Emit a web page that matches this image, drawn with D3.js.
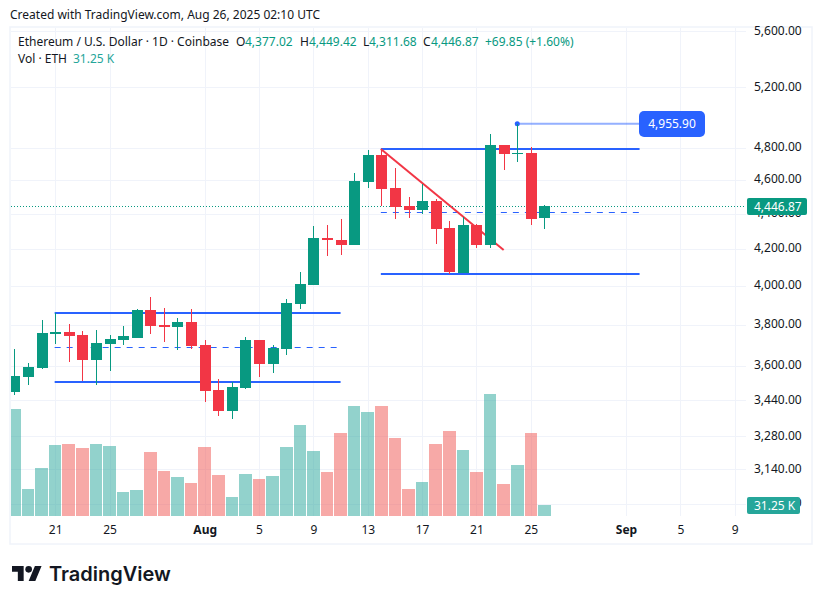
<!DOCTYPE html>
<html>
<head>
<meta charset="utf-8">
<script src="https://cdn.jsdelivr.net/npm/d3@7"></script>
<style>
    html, body { margin: 0; padding: 0; background: #fff; }
    svg { display: block; }
    text { font-family: "Noto Sans", sans-serif; }
</style>
</head>
<body>
<div id="chart"></div>
<script>
// daily candles, Jul 18 to Aug 26 2025
var startDay = "2025-07-18";
var opens = [3479, 3547, 3589, 3754, 3764, 3749, 3627, 3706, 3725, 3735, 3875, 3799, 3789, 3814, 3701, 3487, 3392, 3496, 3725, 3608,
    3681, 3906, 4005, 4261, 4250, 4222, 4589, 4755, 4552, 4446, 4422, 4475, 4319, 4068, 4336, 4222, 4820, 4762, 4768, 4377.02];
var highs = [3681, 3613, 3824, 3860, 3804, 3769, 3774, 3749, 3794, 3880, 3942, 3885, 3834, 3880, 3725, 3538, 3524, 3740, 3725, 3701,
    3932, 4074, 4330, 4336, 4370, 4644, 4787, 4793, 4674, 4499, 4577, 4487, 4358, 4382, 4342, 4889, 4820, 4956, 4806, 4449.42];
var lows = [3464, 3510, 3585, 3706, 3618, 3528, 3510, 3575, 3701, 3735, 3754, 3715, 3676, 3681, 3432, 3370, 3355, 3492, 3547, 3566,
    3651, 3880, 4005, 4162, 4167, 4222, 4552, 4446, 4370, 4376, 4399, 4228, 4063, 4068, 4206, 4206, 4662, 4712, 4336, 4311.68];
var closes = [3552, 3594, 3759, 3764, 3745, 3627, 3710, 3730, 3745, 3875, 3794, 3789, 3814, 3696, 3482, 3392, 3501, 3725, 3608, 3686,
    3911, 4011, 4261, 4250, 4222, 4595, 4755, 4546, 4440, 4422, 4475, 4313, 4074, 4336, 4222, 4820, 4762, 4768, 4370, 4446.87];
var volumes = [304, 77, 136, 202, 204, 193, 204, 199, 68, 74, 182, 128, 111, 94, 196, 116, 54, 119, 105, 114,
    196, 258, 185, 125, 236, 312, 295, 312, 221, 77, 97, 204, 241, 187, 125, 346, 91, 145, 236, 31.25];

// axis labels
var priceTicks = [5600, 5200, 4800, 4600, 4400, 4200, 4000, 3800, 3600, 3440, 3280, 3140, 3000];
var timeTicks = ["2025-07-21", "2025-07-25", "2025-08-01", "2025-08-05", "2025-08-09", "2025-08-13", "2025-08-17", "2025-08-21", "2025-08-25", "2025-09-01", "2025-09-05", "2025-09-09"];
var timeLabels = ["21", "25", "Aug", "5", "9", "13", "17", "21", "25", "Sep", "5", "9"];

// drawings: [from, to, price from, price to]
var solidLines = [
    ["2025-07-21", "2025-08-11", 3860, 3860],
    ["2025-07-21", "2025-08-11", 3524, 3524],
    ["2025-08-14", "2025-09-02", 4793, 4793],
    ["2025-08-14", "2025-09-02", 4063, 4063]
];
var dashedLines = [
    ["2025-07-21", "2025-08-11", 3689, 3689],
    ["2025-08-14", "2025-09-02", 4409, 4409]
];
var trendLine = ["2025-08-14", "2025-08-23", 4793, 4195];
var targetLine = ["2025-08-24", "2025-09-02", 4955.90, 4955.90];

var lastPrice = 4446.87, lastVolume = 31.25;

var upColor = "#089981", downColor = "#f23645", blue = "#2962ff", gridColor = "#f0f3fa", textColor = "#131722";

var width = 822, height = 604,
    plotLeft = 11, plotRight = 746, plotTop = 28, plotBottom = 516;

var parseDay = d3.utcParse("%Y-%m-%d");
var days = d3.utcDay.range(parseDay(startDay), d3.utcDay.offset(parseDay(startDay), opens.length));

var x = d3.scaleUtc()
    .domain([parseDay(startDay), parseDay("2025-09-09")])
    .range([14.4, 734.7]);
var y = d3.scaleLog()
    .domain([5200, 3140])
    .range([87.3, 469.3]);
var yVol = d3.scaleLinear()
    .domain([0, 1000])
    .range([516, 164]);

var svg = d3.select("#chart").append("svg")
    .attr("width", width)
    .attr("height", height)
    .attr("viewBox", "0 0 " + width + " " + height);

svg.append("defs").append("clipPath")
    .attr("id", "plot-clip")
    .append("rect")
    .attr("x", plotLeft)
    .attr("y", plotTop)
    .attr("width", plotRight - plotLeft)
    .attr("height", plotBottom - plotTop);

svg.append("text")
    .attr("x", 10)
    .attr("y", 19)
    .attr("font-size", 12)
    .attr("fill", textColor)
    .text("Created with TradingView.com, Aug 26, 2025 02:10 UTC");

// frame
svg.append("rect")
    .attr("x", 10)
    .attr("y", 27)
    .attr("width", 802)
    .attr("height", 517)
    .attr("fill", "none")
    .attr("stroke", gridColor)
    .attr("stroke-width", 1.5);

// grid
var grid = svg.append("g").attr("shape-rendering", "crispEdges");
grid.selectAll("line.h")
    .data(priceTicks)
    .enter().append("line")
    .attr("class", "h")
    .attr("x1", plotLeft)
    .attr("x2", plotRight)
    .attr("y1", function (d) { return Math.round(y(d)) + 0.5; })
    .attr("y2", function (d) { return Math.round(y(d)) + 0.5; })
    .attr("stroke", gridColor);
grid.selectAll("line.v")
    .data(timeTicks)
    .enter().append("line")
    .attr("class", "v")
    .attr("x1", function (d) { return Math.round(x(parseDay(d))) + 0.5; })
    .attr("x2", function (d) { return Math.round(x(parseDay(d))) + 0.5; })
    .attr("y1", plotTop)
    .attr("y2", plotBottom)
    .attr("stroke", gridColor);

var plot = svg.append("g").attr("clip-path", "url(#plot-clip)");

// volume bars
plot.append("g")
    .attr("shape-rendering", "crispEdges")
    .selectAll("rect")
    .data(days)
    .enter().append("rect")
    .attr("x", function (d) { return Math.round(x(d) - 6.3); })
    .attr("width", function (d) {
        return Math.round(x(d3.utcDay.offset(d, 1)) - 6.3) - 1 - Math.round(x(d) - 6.3);
    })
    .attr("y", function (d, i) { return yVol(volumes[i]); })
    .attr("height", function (d, i) { return yVol(0) - yVol(volumes[i]); })
    .attr("fill", function (d, i) { return closes[i] >= opens[i] ? "#26a69a" : "#ef5350"; })
    .attr("opacity", 0.5);

// drawings sit under the candles
function addLine(g, d) {
    return g.append("line")
        .attr("x1", x(parseDay(d[0])) - 0.5)
        .attr("x2", x(parseDay(d[1])))
        .attr("y1", y(d[2]))
        .attr("y2", y(d[3]));
}
var drawings = plot.append("g");
solidLines.forEach(function (d) {
    var yy = Math.round(y(d[2]));
    addLine(drawings, d).attr("y1", yy).attr("y2", yy).attr("stroke", blue).attr("stroke-width", 2);
});
dashedLines.forEach(function (d) {
    var yy = Math.round(y(d[2])) + 0.5;
    addLine(drawings, d).attr("y1", yy).attr("y2", yy).attr("stroke", blue).attr("stroke-width", 1).attr("stroke-dasharray", "6 6");
});
addLine(drawings, trendLine).attr("stroke", downColor).attr("stroke-width", 2);
addLine(drawings, targetLine).attr("stroke", blue).attr("stroke-opacity", 0.5).attr("stroke-width", 2);
drawings.append("circle")
    .attr("cx", x(parseDay(targetLine[0])))
    .attr("cy", y(targetLine[2]))
    .attr("r", 2.5)
    .attr("fill", blue);

// last price line
plot.append("line")
    .attr("x1", plotLeft)
    .attr("x2", plotRight)
    .attr("y1", Math.round(y(lastPrice)) + 0.5)
    .attr("y2", Math.round(y(lastPrice)) + 0.5)
    .attr("stroke", upColor)
    .attr("stroke-dasharray", "1 2");

// candles
var candles = plot.append("g")
    .attr("shape-rendering", "crispEdges")
    .selectAll("g")
    .data(days)
    .enter().append("g")
    .attr("fill", function (d, i) { return closes[i] >= opens[i] ? upColor : downColor; });
candles.append("rect")
    .attr("x", function (d) { return Math.round(x(d)); })
    .attr("width", 1)
    .attr("y", function (d, i) { return y(highs[i]); })
    .attr("height", function (d, i) { return y(lows[i]) - y(highs[i]); });
candles.append("rect")
    .attr("x", function (d) { return Math.round(x(d)) - 5; })
    .attr("width", 11)
    .attr("y", function (d, i) { return y(Math.max(opens[i], closes[i])); })
    .attr("height", function (d, i) { return Math.max(1, Math.abs(y(opens[i]) - y(closes[i]))); });

// price axis
var priceAxis = svg.append("g")
    .attr("transform", "translate(746,-1)")
    .call(d3.axisRight(y).tickValues(priceTicks).tickFormat(d3.format(",.2f")).tickSize(0).tickPadding(8));
priceAxis.select(".domain").remove();
priceAxis.attr("font-family", null).attr("font-size", 12);
priceAxis.selectAll("text").attr("fill", textColor);

// time axis
var timeDates = timeTicks.map(parseDay);
var timeAxis = svg.append("g")
    .attr("transform", "translate(0,522)")
    .call(d3.axisBottom(x).tickValues(timeDates).tickSize(0).tickPadding(3)
        .tickFormat(function (d, i) { return timeLabels[i]; }));
timeAxis.select(".domain").remove();
timeAxis.attr("font-family", null).attr("font-size", 12);
timeAxis.selectAll("text")
    .attr("fill", textColor)
    .attr("font-weight", function (d, i) { return isNaN(timeLabels[i]) ? 700 : 400; });

// last value tags
function tag(tagX, tagY, w, h, fill, label) {
    svg.append("rect")
        .attr("x", tagX).attr("y", tagY)
        .attr("width", w).attr("height", h)
        .attr("rx", 2)
        .attr("fill", fill);
    svg.append("text")
        .attr("x", 754).attr("y", tagY + h / 2 + 4)
        .attr("font-size", 12)
        .attr("fill", "#fff")
        .text(label);
}
tag(747, 198, 60, 17, upColor, d3.format(",.2f")(lastPrice));
tag(747, 497, 53, 17, "#26a69a", d3.format(".2f")(lastVolume) + " K");

// target label
svg.append("rect")
    .attr("x", 639).attr("y", 111)
    .attr("width", 66).attr("height", 26)
    .attr("rx", 5)
    .attr("fill", blue);
svg.append("text")
    .attr("x", 672).attr("y", 128)
    .attr("text-anchor", "middle")
    .attr("font-size", 12)
    .attr("fill", "#fff")
    .text(d3.format(",.2f")(targetLine[2]));

// legend
var legendItems = [
    [18, "Ethereum / U.S. Dollar · 1D · Coinbase", textColor],
    [236, "O", textColor], [245, "4,377.02", upColor],
    [300, "H", textColor], [309, "4,449.42", upColor],
    [363, "L", textColor], [369, "4,311.68", upColor],
    [423, "C", textColor], [431, "4,446.87", upColor],
    [485, "+69.85 (+1.60%)", upColor]
];
svg.selectAll("text.legend")
    .data(legendItems)
    .enter().append("text")
    .attr("class", "legend")
    .attr("x", function (d) { return d[0]; })
    .attr("y", 46)
    .attr("font-size", 12)
    .attr("fill", function (d) { return d[2]; })
    .text(function (d) { return d[1]; });
svg.append("text")
    .attr("x", 18).attr("y", 63)
    .attr("font-size", 12)
    .attr("fill", textColor)
    .text("Vol · ETH");
svg.append("text")
    .attr("x", 73).attr("y", 63)
    .attr("font-size", 12)
    .attr("fill", "#26a69a")
    .text("31.25 K");

// logo
var logo = svg.append("g")
    .attr("transform", "translate(12,562.7) scale(0.833)")
    .attr("fill", textColor);
logo.append("path").attr("d", "M14 22H7V11H0V4h14v18zM28 22h-8l7.5-18h8L28 22z");
logo.append("circle").attr("cx", 20).attr("cy", 8).attr("r", 4);
svg.append("text")
    .attr("x", 49).attr("y", 581)
    .attr("font-size", 20)
    .attr("font-weight", 600)
    .attr("fill", textColor)
    .style("font-family", "Inter, sans-serif")
    .text("TradingView");
</script>
</body>
</html>
